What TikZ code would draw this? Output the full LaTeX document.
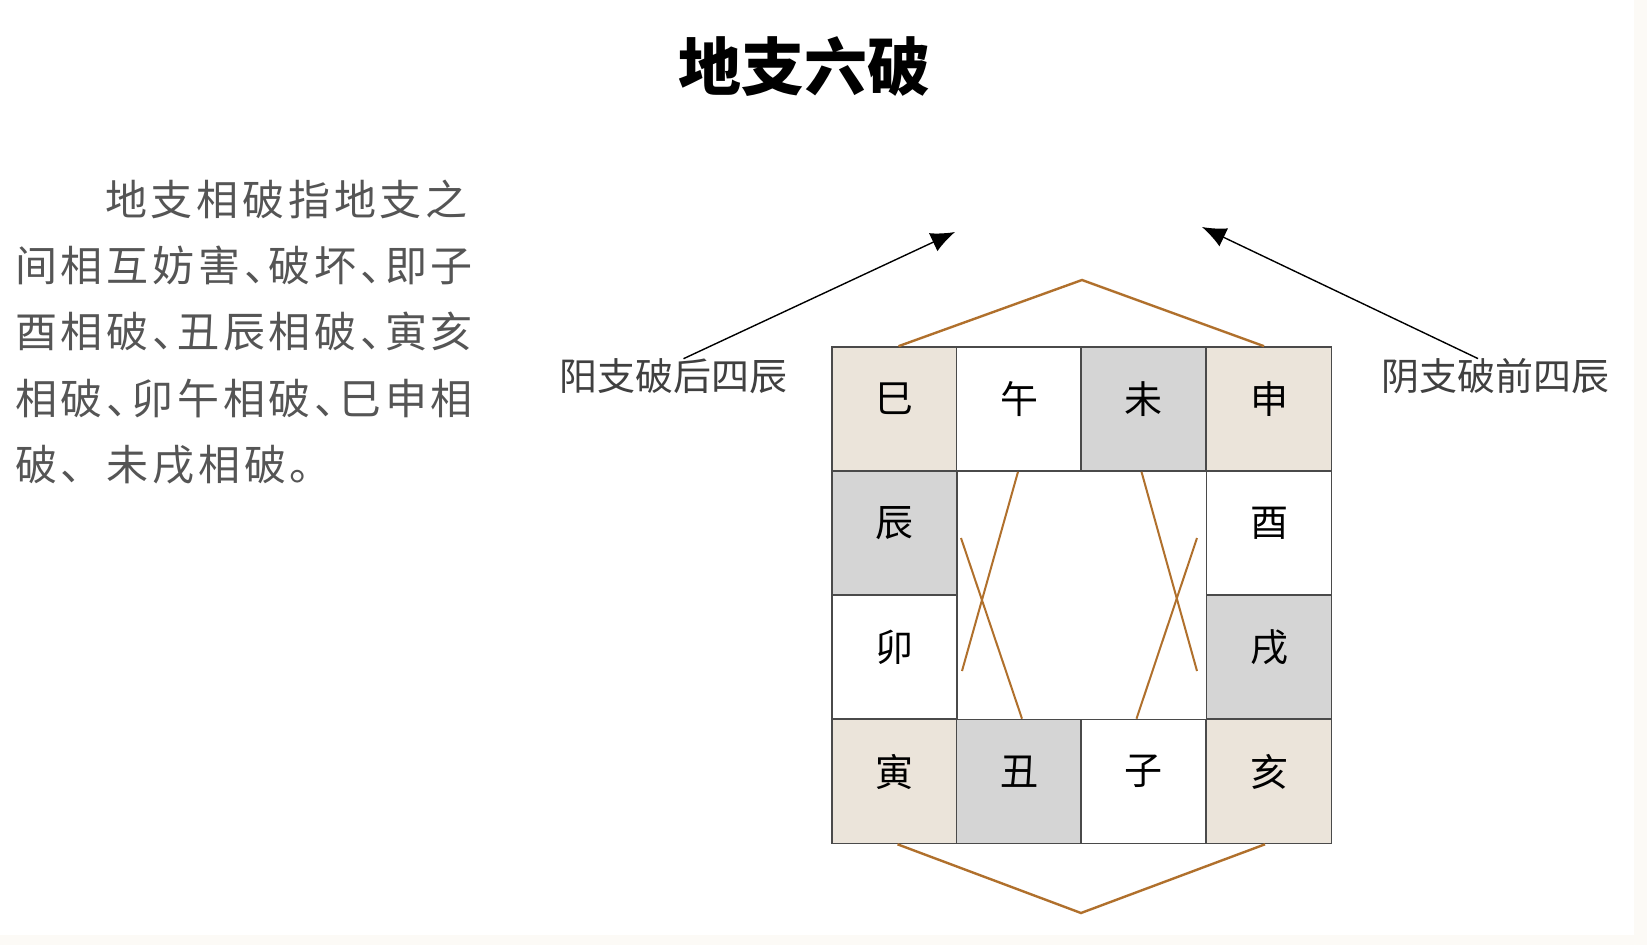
\documentclass[tikz,border=0pt]{standalone}
\usepackage{fontspec}
\setmainfont{Noto Sans CJK SC}
\newfontfamily\cjkp[LetterSpace=9]{Noto Sans CJK SC}
\newfontfamily\cjkph[LetterSpace=9,RawFeature=+halt]{Noto Sans CJK SC}
\usetikzlibrary{arrows.meta,calc}
\definecolor{beige}{HTML}{EBE4DA}
\definecolor{cellgray}{HTML}{D5D5D5}
\definecolor{gridline}{HTML}{4A4A4A}
\definecolor{hexline}{HTML}{B0702C}
\definecolor{paratext}{HTML}{555555}
\definecolor{labeltext}{HTML}{404040}
\definecolor{edgetint}{HTML}{FCFAF6}
\newcommand{\cellchar}[1]{\raisebox{10pt}[\height][\depth]{#1}}
\begin{document}
\begin{tikzpicture}[x=1pt,y=-1pt,
  cell/.style={draw=gridline,line width=1.6pt,minimum width=125pt,minimum height=124pt,inner sep=0pt,font=\fontsize{38}{38}\selectfont,text=black},
  corner/.style={cell,fill=beige},
  grey/.style={cell,fill=cellgray},
  plain/.style={cell,fill=white},
  hex/.style={draw=hexline,line width=2.4pt},
  cross/.style={draw=hexline,line width=2pt},
  pointer/.style={draw=black,line width=1.4pt,-{Latex[length=24pt,width=20pt]}},
  sidelabel/.style={inner sep=0pt,text=labeltext,font=\fontsize{38}{38}\selectfont},
  para/.style={inner sep=0pt,anchor=west,text=paratext},
  titletext/.style={inner sep=0pt,text=black,font=\fontsize{63}{63}\selectfont\bfseries}
]
\useasboundingbox (0,0) rectangle (1647,945);
\fill[white] (0,0) rectangle (1647,945);
\fill[edgetint] (1634,0) rectangle (1647,945);
\fill[edgetint] (0,935) rectangle (1647,945);

% title
\node[titletext] (title) at (804,67) {地支六破};

% paragraph
\node[para] (p1) at (105,199) {\fontsize{42}{42}\cjkp 地支相破指地支之};
\node[para] (p2) at (15,265) {\fontsize{42}{42}\cjkph 间相互妨害、破坏、即子};
\node[para] (p3) at (15,332) {\fontsize{42}{42}\cjkph 酉相破、丑辰相破、寅亥};
\node[para] (p4) at (15,398) {\fontsize{42}{42}\cjkph 相破、卯午相破、巳申相};
\node[para] (p5) at (15,465) {\fontsize{42}{42}\cjkp 破、未戌相破。};

% grid cells
\node[corner] (si)   at (894.5,409) {\cellchar{巳}};
\node[plain]  (wu)   at (1019,409)  {\cellchar{午}};
\node[grey]   (wei)  at (1143.5,409){\cellchar{未}};
\node[corner] (shen) at (1269,409)  {\cellchar{申}};
\node[grey]   (chen) at (894.5,533) {\cellchar{辰}};
\node[plain]  (you)  at (1269,533)  {\cellchar{酉}};
\node[plain]  (mao)  at (894.5,657) {\cellchar{卯}};
\node[grey]   (xu)   at (1269,657)  {\cellchar{戌}};
\node[corner] (yin)  at (894.5,781.5){\cellchar{寅}};
\node[grey]   (chou) at (1019,781.5) {\cellchar{丑}};
\node[plain]  (zi)   at (1143.5,781.5){\cellchar{子}};
\node[corner] (hai)  at (1269,781.5) {\cellchar{亥}};

% hexagon caps
\coordinate (hextop) at (1082,280);
\coordinate (hexbot) at (1081,913);
\draw[hex] ([xshift=4pt]si.north) -- (hextop) -- ([xshift=-5pt]shen.north);
\draw[hex] ([xshift=3pt]yin.south) -- (hexbot) -- ([xshift=-4pt]hai.south);

% crossing lines
\coordinate (xa2) at (962,671);
\coordinate (xb1) at (961,538);
\coordinate (xc2) at (1197,671);
\coordinate (xd1) at (1197,538);
\draw[cross] ([xshift=-1pt]wu.south) -- (xa2);
\draw[cross] (xb1) -- ([xshift=3pt]chou.north);
\draw[cross] ([xshift=-2pt]wei.south) -- (xc2);
\draw[cross] (xd1) -- ([xshift=-7pt]zi.north);

% side labels and arrows
\node[sidelabel] (lblL) at (673.5,376.5) {阳支破后四辰};
\node[sidelabel] (lblR) at (1495,376.5) {阴支破前四辰};
\coordinate (tipL) at (955,232);
\coordinate (tipR) at (1202,227);
\draw[pointer] ([xshift=10pt]lblL.north) -- (tipL);
\draw[pointer] ([xshift=-17pt]lblR.north) -- (tipR);
\end{tikzpicture}
\end{document}
